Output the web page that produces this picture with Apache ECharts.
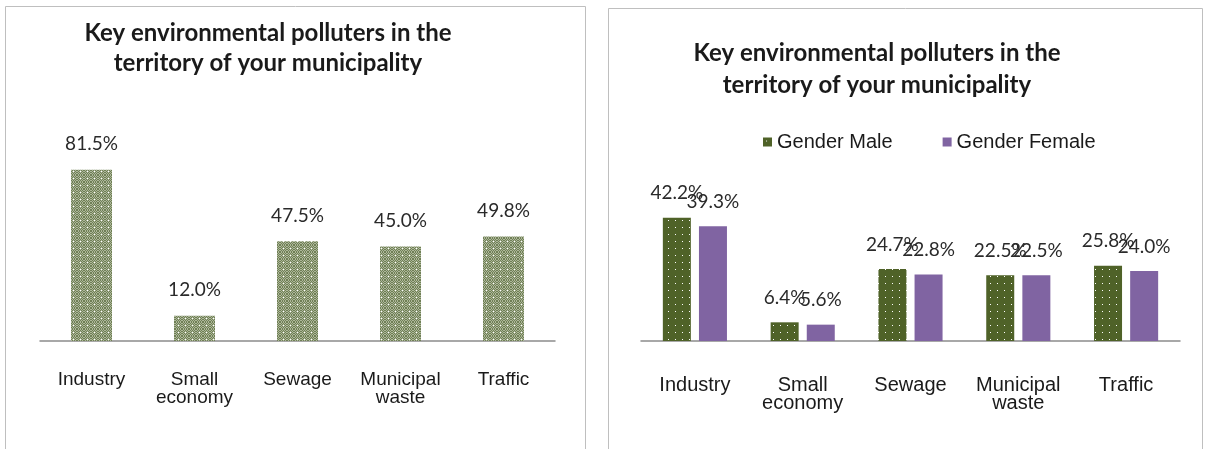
<!DOCTYPE html>
<html>
<head>
<meta charset="utf-8">
<script src="https://cdn.jsdelivr.net/npm/echarts@6/dist/echarts.min.js"></script>
<style>
  html, body { margin: 0; padding: 0; background: #fff; }
  #chart { width: 1206px; height: 449px; }
</style>
</head>
<body>
<div id="chart"></div>
<script>
// data
const categories = ['Industry', 'Small\neconomy', 'Sewage', 'Municipal\nwaste', 'Traffic'];
const totalValues = [81.5, 12.0, 47.5, 45.0, 49.8];
const maleValues = [42.2, 6.4, 24.7, 22.5, 25.8];
const femaleValues = [39.3, 5.6, 22.8, 22.5, 24.0];
const titleText = 'Key environmental polluters in the\nterritory of your municipality';

// dotted fills
function makePattern(base, alt, dot) {
    const c = document.createElement('canvas');
    c.width = 7; c.height = 7;
    const ctx = c.getContext('2d');
    ctx.fillStyle = base;
    ctx.fillRect(0, 0, 7, 7);
    if (alt) {
        ctx.fillStyle = alt;
        for (let x = 0; x < 7; x++) {
            for (let y = 0; y < 7; y++) {
                if ((x + y) % 2 === 0) ctx.fillRect(x, y, 1, 1);
            }
        }
    }
    ctx.fillStyle = dot;
    ctx.fillRect(3, 3, 1, 1);
    return { image: c, repeat: 'repeat' };
}

const lightGreen = makePattern('#adb79a', '#6f7f55', '#ffffff');
const darkGreen = makePattern('#4f6228', null, '#ffffff');
const purple = '#8064a2';

const chart = echarts.init(document.getElementById('chart'));

const labelStyle = {
    show: true,
    position: 'top',
    fontFamily: 'Lato',
    color: '#2a2a2a',
    formatter: p => p.value.toFixed(1) + '%'
};

const axisCommon = {
    type: 'category',
    data: categories,
    axisTick: { show: false },
    axisLine: { lineStyle: { color: '#8c8c8c', width: 1.5 } },
    axisLabel: {
        fontFamily: 'Liberation Sans',
        color: '#1a1a1a',
        interval: 0,
        lineHeight: 18
    }
};

const option = {
    animation: false,
    graphic: [
        {
            type: 'rect',
            shape: { x: 5.5, y: 6.5, width: 580, height: 460 },
            style: { fill: 'none', stroke: '#bfbfbf', lineWidth: 1 }
        },
        {
            type: 'rect',
            shape: { x: 608.5, y: 8.5, width: 594, height: 460 },
            style: { fill: 'none', stroke: '#bfbfbf', lineWidth: 1 }
        }
    ],
    title: [
        {
            text: titleText,
            left: 263,
            textAlign: 'center',
            top: 13,
            textStyle: { fontFamily: 'Lato', fontWeight: 'bold', fontSize: 24, color: '#1a1a1a', lineHeight: 30 }
        },
        {
            text: titleText,
            left: 872,
            textAlign: 'center',
            top: 32,
            textStyle: { fontFamily: 'Lato', fontWeight: 'bold', fontSize: 24, color: '#1a1a1a', lineHeight: 32 }
        }
    ],
    legend: {
        data: ['Gender Male', 'Gender Female'],
        left: 758,
        top: 127,
        itemWidth: 9,
        itemHeight: 9,
        itemGap: 50,
        icon: 'rect',
        textStyle: { fontFamily: 'Liberation Sans', fontSize: 20, color: '#1a1a1a' }
    },
    grid: [
        { left: 40, right: 651, top: 131, bottom: 108 },
        { left: 641, right: 26, top: 195, bottom: 108 }
    ],
    xAxis: [
        { ...axisCommon, gridIndex: 0, axisLabel: { ...axisCommon.axisLabel, fontSize: 19, margin: 30 } },
        { ...axisCommon, gridIndex: 1, axisLabel: { ...axisCommon.axisLabel, fontSize: 20, margin: 35 } }
    ],
    yAxis: [
        { type: 'value', gridIndex: 0, min: 0, max: 100, show: false },
        { type: 'value', gridIndex: 1, min: 0, max: 50, show: false }
    ],
    series: [
        {
            name: 'Total',
            type: 'bar',
            xAxisIndex: 0,
            yAxisIndex: 0,
            data: totalValues,
            barWidth: 41,
            itemStyle: { color: lightGreen },
            label: { ...labelStyle, fontSize: 19, distance: 16 }
        },
        {
            name: 'Gender Male',
            type: 'bar',
            xAxisIndex: 1,
            yAxisIndex: 1,
            data: maleValues,
            barWidth: 28,
            barGap: '29%',
            itemStyle: { color: darkGreen },
            label: { ...labelStyle, fontSize: 19, distance: 15 }
        },
        {
            name: 'Gender Female',
            type: 'bar',
            xAxisIndex: 1,
            yAxisIndex: 1,
            data: femaleValues,
            barWidth: 28,
            itemStyle: { color: purple },
            label: { ...labelStyle, fontSize: 19, distance: 15 }
        }
    ]
};

chart.setOption(option);
</script>
</body>
</html>
